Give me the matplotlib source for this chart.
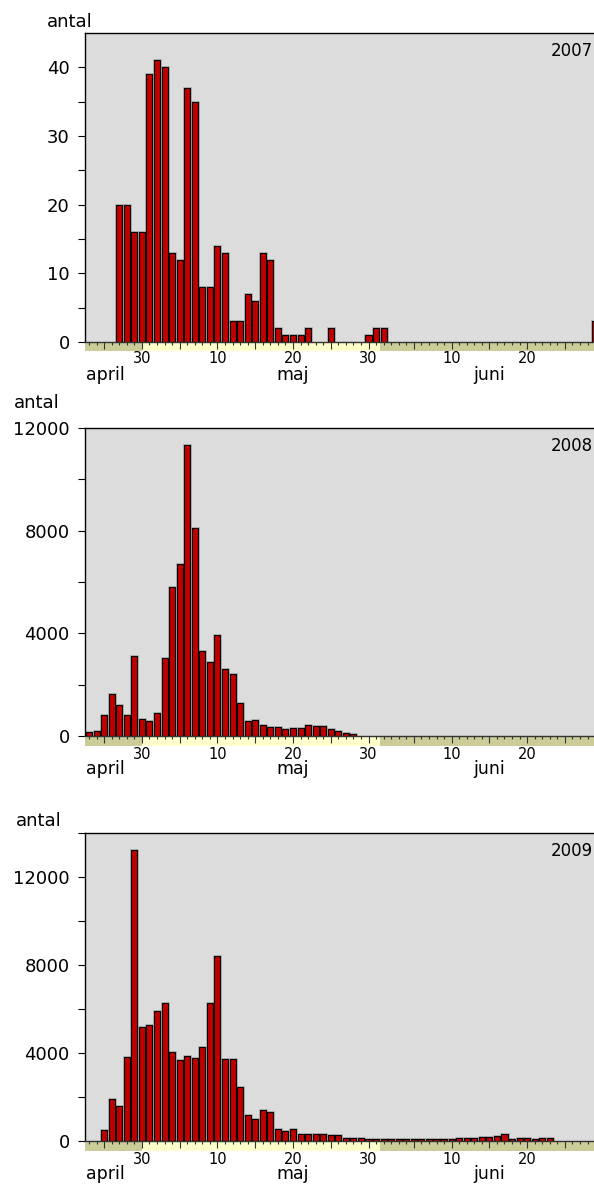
import matplotlib
matplotlib.use("Agg")
import numpy as np
import matplotlib.pyplot as plt
import matplotlib.transforms as mtransforms

plt.rcParams["font.family"] = ["DejaVu Sans"]

# ---------------------------------------------------------------- data
# daily counts, consecutive days starting at the given first date
years = [2007, 2008, 2009]
first_day = {2007: "04-27", 2008: "04-23", 2009: "04-25"}

counts_2007 = [20, 20, 16, 16, 39, 41, 40, 13, 12, 37, 35, 8, 8, 14, 13, 3, 3,
               7, 6, 13, 12, 2, 1, 1, 1, 2, 0, 0, 2, 0, 0, 0, 0, 1, 2, 2,
               0, 0, 0, 0, 0, 0, 0, 0, 0, 0, 0, 0, 0, 0, 0, 0, 0, 0, 0, 0,
               0, 0, 0, 0, 0, 0, 0, 3]
counts_2008 = [150, 200, 800, 1650, 1200, 800, 3100, 650, 600, 900, 3050,
               5800, 6700, 11350, 8100, 3300, 2900, 3950, 2600, 2400, 1300,
               600, 620, 420, 360, 340, 270, 330, 330, 440, 400, 390, 290,
               180, 130, 70]
counts_2009 = [500, 1900, 1600, 3800, 13200, 5150, 5250, 5900, 6250, 4050,
               3650, 3850, 3750, 4250, 6250, 8400, 3700, 3700, 2450, 1150,
               1000, 1400, 1300, 550, 450, 550, 300, 290, 290, 290, 260, 260,
               110, 110, 110, 80, 80, 80, 80, 80, 80, 80, 80, 80, 80, 80, 80,
               140, 140, 140, 180, 150, 230, 300, 80, 140, 140, 80, 140, 140]
counts = {2007: counts_2007, 2008: counts_2008, 2009: counts_2009}

ylims = {2007: 45, 2008: 12000, 2009: 14000}
yticks_major = {2007: [0, 10, 20, 30, 40],
                2008: [0, 4000, 8000, 12000],
                2009: [0, 4000, 8000, 12000]}
yticks_minor = {2007: [5, 15, 25, 35],
                2008: [2000, 6000, 10000],
                2009: [2000, 6000, 10000, 14000]}

day_label_dates = ["04-30", "05-10", "05-20", "05-30", "06-10", "06-20"]
day_labels = ["30", "10", "20", "30", "10", "20"]
month_labels = ["april", "maj", "juni"]
month_label_dates = ["04-22", "05-20", "06-15"]

# ---------------------------------------------------------------- layout
W, H = 594, 1186
fig = plt.figure(figsize=(W / 100, H / 100), dpi=100)
fig.patch.set_facecolor("white")


def fx(px):
    return px / W


def fy(py):
    return 1 - py / H


def day_index(year, mmdd):
    """Days after 30 April of the same year."""
    d = np.datetime64(f"{year}-{mmdd}")
    ref = np.datetime64(f"{year}-04-30")
    return int((d - ref).astype(int))


X_LEFT, X_RIGHT = -7.6, 59.85
AX_LEFT = 84.5

# pixel rows: axes top, zero line, strip height, day-label baseline offset,
# position of the "antal" caption
panels = {
    2007: dict(top=33, zero=342, strip=8.5, dayoff=21, antal=(70, 27)),
    2008: dict(top=428, zero=736, strip=10, dayoff=23, antal=(37, 408)),
    2009: dict(top=832.7, zero=1140.7, strip=10, dayoff=23, antal=(39, 826.5)),
}

BAR_RED = "#c00000"
BG = "#dcdcdc"
KHAKI = "#cccc99"
PALE = "#ffffcc"

for year in years:
    p = panels[year]
    ax = fig.add_axes([fx(AX_LEFT), fy(p["zero"]), fx(W - AX_LEFT),
                       (p["zero"] - p["top"]) / H])
    ax.set_facecolor(BG)
    vals = np.array(counts[year], dtype=float)
    x = day_index(year, first_day[year]) + np.arange(len(vals))
    keep = vals > 0
    # soft grey halo, then the outlined bar itself
    ax.bar(x[keep], vals[keep], width=0.8, color="none",
           edgecolor="#8c8c8c", linewidth=2.0, alpha=0.55, zorder=2)
    ax.bar(x[keep], vals[keep], width=0.8, color=BAR_RED,
           edgecolor="black", linewidth=0.8, zorder=3)

    ax.set_yticks(yticks_major[year])
    ax.set_yticks(yticks_minor[year], minor=True)
    ax.set_yticklabels([str(v) for v in yticks_major[year]], fontsize=13)
    ax.tick_params(axis="y", which="major", direction="out", length=5.2,
                   width=0.8, pad=5.5, colors="black")
    ax.tick_params(axis="y", which="minor", direction="out", length=5.2,
                   width=0.8)
    ax.tick_params(axis="x", which="both", bottom=False, labelbottom=False)
    ax.set_xlim(X_LEFT, X_RIGHT)
    ax.set_ylim(0, ylims[year])
    for s in ("right", "bottom"):
        ax.spines[s].set_visible(False)
    for s in ("left", "top"):
        ax.spines[s].set_linewidth(1.0)
        ax.spines[s].set_color("black")

    # date strip under the zero line
    sx = fig.add_axes([fx(AX_LEFT), fy(p["zero"] + p["strip"]),
                       fx(W - AX_LEFT), p["strip"] / H])
    may_start = day_index(year, "04-30")
    june_start = day_index(year, "06-01") - 0.5
    sx.axvspan(X_LEFT - 2, may_start, color=KHAKI, lw=0)
    sx.axvspan(may_start, june_start, color=PALE, lw=0)
    sx.axvspan(june_start, X_RIGHT + 2, color=KHAKI, lw=0)
    sx.set_yticks([])
    for s in ("left", "right", "bottom"):
        sx.spines[s].set_visible(False)
    sx.spines["top"].set_color("#333333")
    sx.spines["top"].set_linewidth(1.0)

    days = np.arange(np.datetime64(f"{year}-04-22"),
                     np.datetime64(f"{year}-07-01"))
    dom = np.array([int(str(d)[-2:]) for d in days])
    idx = np.array([day_index(year, str(d)[5:]) for d in days])
    is_major = np.isin(dom, [5, 10, 15, 20, 25, 30])
    sx.xaxis.tick_top()
    sx.set_xticks(idx[is_major])
    sx.set_xticks(idx[~is_major], minor=True)
    sx.tick_params(axis="x", which="both", direction="in", top=True,
                   bottom=False, labeltop=False, labelbottom=False,
                   colors="#333333", width=0.8)
    sx.tick_params(axis="x", which="major", length=5.0)
    sx.tick_params(axis="x", which="minor", length=2.5)
    sx.set_xlim(X_LEFT, X_RIGHT)
    sx.set_ylim(0, 1)

    tr = mtransforms.blended_transform_factory(sx.transData, fig.transFigure)
    for d, lab in zip(day_label_dates, day_labels):
        sx.text(day_index(year, d), fy(p["zero"] + p["dayoff"]), lab,
                transform=tr, ha="center", va="baseline", fontsize=10.5)
    for d, lab in zip(month_label_dates, month_labels):
        xm = day_index(year, d)
        if lab == "april":
            sx.text(xm + 0.6, fy(p["zero"] + 38), lab, transform=tr,
                    ha="left", va="baseline", fontsize=12.5)
        else:
            sx.text(xm, fy(p["zero"] + 38), lab, transform=tr,
                    ha="center", va="baseline", fontsize=12.5)

    ax_x, ax_y = p["antal"]
    fig.text(fx(ax_x), fy(ax_y), "antal", ha="center", va="baseline",
             fontsize=13)
    fig.text(fx(593), fy(p["top"] + 23), str(year), ha="right",
             va="baseline", fontsize=12)

fig.savefig("out.png", dpi=100, facecolor="white")
